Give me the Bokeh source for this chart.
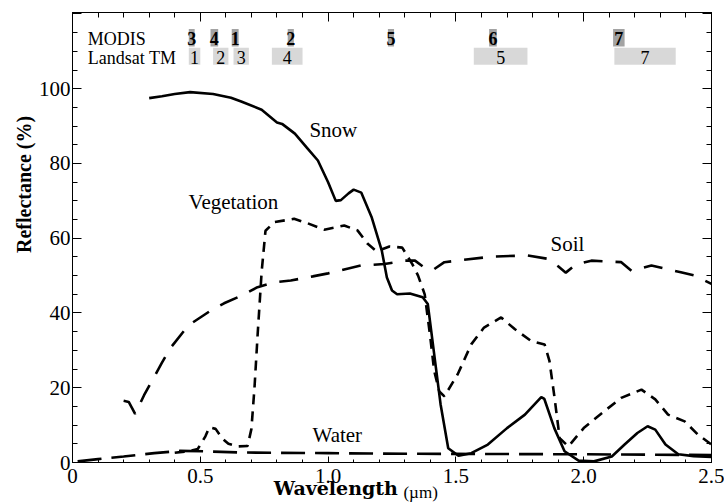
import math
from bokeh.plotting import figure
from bokeh.models import (LinearAxis, Label, Range1d, SingleIntervalTicker, FixedTicker,
                          ColumnDataSource, CustomJSTickFormatter)
from bokeh.core.properties import value
from bokeh.embed import file_html
from bokeh.resources import INLINE

# ---------------- data ----------------
snow_x = [0.30, 0.35, 0.40, 0.46, 0.55, 0.62, 0.66, 0.74, 0.80, 0.82, 0.87, 0.92, 0.96,
          1.00, 1.03, 1.05, 1.08, 1.10, 1.13, 1.17, 1.21, 1.23, 1.25, 1.27, 1.32, 1.37,
          1.39, 1.415, 1.44, 1.47, 1.51, 1.56, 1.625, 1.70, 1.77, 1.834, 1.846, 1.885,
          1.925, 1.98, 2.04, 2.11, 2.16, 2.21, 2.25, 2.28, 2.32, 2.37, 2.43, 2.50]
snow_y = [97.5, 98.0, 98.6, 99.1, 98.6, 97.6, 96.6, 94.4, 91.0, 90.6, 88.0, 84.0, 80.8,
          75.0, 70.0, 70.2, 72.0, 73.0, 72.2, 65.7, 56.7, 49.5, 46.0, 45.0, 45.2, 44.2,
          42.4, 29.0, 15.6, 3.8, 1.8, 2.5, 4.8, 9.2, 12.8, 17.5, 17.0, 9.2,
          3.0, 0.5, 0.3, 1.6, 4.8, 7.9, 9.7, 8.8, 4.8, 2.2, 1.7, 1.5]

veg_x = [0.40, 0.45, 0.49, 0.52, 0.535, 0.56, 0.585, 0.61, 0.645, 0.685, 0.70, 0.712,
         0.725, 0.74, 0.755, 0.79, 0.867, 0.92, 0.985, 1.063, 1.115, 1.155, 1.19, 1.24,
         1.29, 1.33, 1.352, 1.378, 1.40, 1.415, 1.435, 1.455, 1.507, 1.56, 1.61, 1.677,
         1.73, 1.795, 1.847, 1.866, 1.886, 1.906, 1.94, 2.00, 2.08, 2.147, 2.226, 2.28,
         2.33, 2.395, 2.448, 2.50]
veg_y = [2.6, 3.0, 3.6, 7.0, 9.4, 9.0, 6.5, 5.0, 4.3, 4.4, 9.0, 20.0,
         35.0, 51.0, 62.0, 64.3, 65.2, 64.0, 62.3, 63.4, 62.1, 58.5, 56.5, 57.8,
         57.5, 53.0, 50.0, 45.0, 33.4, 24.5, 19.0, 17.7, 23.6, 31.6, 36.1, 38.8,
         35.7, 32.5, 31.6, 27.2, 17.3, 6.5, 4.3, 9.2, 13.7, 17.3, 19.5, 16.9,
         12.8, 11.0, 7.4, 4.8]

soil_x = [0.20, 0.22, 0.245, 0.28, 0.35, 0.384, 0.436, 0.469, 0.54, 0.593, 0.66, 0.724,
          0.79, 0.854, 0.94, 1.00, 1.128, 1.22, 1.30, 1.34, 1.38, 1.41, 1.455, 1.64,
          1.78, 1.86, 1.90, 1.93, 1.97, 2.03, 2.147, 2.187, 2.265, 2.38, 2.435, 2.50]
soil_y = [16.5, 16.2, 13.0, 18.0, 26.7, 30.7, 35.2, 37.4, 40.6, 42.6, 44.6, 46.9,
          48.2, 48.7, 49.8, 50.6, 52.7, 53.1, 54.0, 54.0, 52.0, 51.5, 53.6, 55.1,
          55.4, 54.5, 52.5, 50.8, 53.0, 54.0, 53.6, 51.3, 52.7, 50.9, 50.0, 47.8]

water_x = [0.02, 0.10, 0.20, 0.32, 0.42, 0.515, 0.645, 0.776, 1.00, 1.17, 1.50, 2.00, 2.50]
water_y = [0.3, 0.9, 1.6, 2.5, 3.1, 3.0, 2.7, 2.6, 2.5, 2.4, 2.3, 2.2, 2.0]

modis_bands = ["3", "4", "1", "2", "5", "6", "7"]
modis_lo = [0.455, 0.540, 0.623, 0.842, 1.234, 1.630, 2.115]
modis_hi = [0.478, 0.570, 0.650, 0.866, 1.258, 1.660, 2.160]

landsat_bands = ["1", "2", "3", "4", "5", "7"]
landsat_lo = [0.455, 0.550, 0.630, 0.780, 1.570, 2.120]
landsat_hi = [0.500, 0.610, 0.690, 0.900, 1.780, 2.360]

curve_names = ["Snow", "Vegetation", "Soil", "Water"]
x_title, x_unit, y_title = "Wavelength", "(µm)", "Reflectance (%)"

# ---------------- figure ----------------
SERIF = "Liberation Serif"

p = figure(width=724, height=504, output_backend="svg", toolbar_location=None,
           x_range=Range1d(0, 2.5), y_range=Range1d(0, 120.4),
           x_axis_location=None, y_axis_location=None,
           min_border_left=72, min_border_right=13, min_border_top=12,
           min_border_bottom=42)
p.grid.visible = False
p.outline_line_color = "black"
p.outline_line_width = 1
p.background_fill_color = "white"
p.border_fill_color = "white"


def style_axis(ax, show_labels):
    ax.axis_line_color = "black"
    ax.axis_line_width = 1
    ax.major_tick_line_color = "black"
    ax.minor_tick_line_color = "black"
    ax.major_tick_out = 0
    ax.minor_tick_out = 0
    ax.major_tick_in = 9
    ax.minor_tick_in = 5
    if show_labels:
        ax.major_label_text_font = SERIF
        ax.major_label_text_font_size = "21px"
        ax.major_label_text_color = "black"
        ax.major_label_standoff = 2
    else:
        ax.formatter = CustomJSTickFormatter(code="return '';")
        ax.major_label_text_font_size = "0px"
        ax.major_label_standoff = 0


def title_axis(ticks, text, font, style, size, standoff, orientation="horizontal"):
    ax = LinearAxis(ticker=FixedTicker(ticks=ticks, minor_ticks=[]),
                    formatter=CustomJSTickFormatter(args=dict(t=text), code="return t;"))
    ax.axis_line_color = None
    ax.major_tick_line_color = None
    ax.minor_tick_line_color = None
    ax.major_tick_in = 0
    ax.major_tick_out = 0
    ax.minor_tick_in = 0
    ax.minor_tick_out = 0
    ax.major_label_text_font = font
    ax.major_label_text_font_style = style
    ax.major_label_text_font_size = size
    ax.major_label_text_color = "black"
    ax.major_label_standoff = standoff
    ax.major_label_orientation = orientation
    return ax


xfmt = CustomJSTickFormatter(code="return tick == 0 ? '0' : tick.toFixed(1);")
yfmt = CustomJSTickFormatter(code="return tick > 110 ? '' : tick.toFixed(0);")

xb = LinearAxis(ticker=SingleIntervalTicker(interval=0.5, num_minor_ticks=5), formatter=xfmt)
style_axis(xb, True)
xb.major_tick_in = 6
xb.minor_tick_in = 3
xb.major_label_standoff = 6
p.add_layout(xb, "below")
p.add_layout(title_axis([1.03], x_title, "DejaVu Serif", "bold", "19px", -9), "below")
p.add_layout(title_axis([1.362], x_unit, SERIF, "normal", "17px", -19), "below")

xt = LinearAxis(ticker=SingleIntervalTicker(interval=0.5, num_minor_ticks=5))
style_axis(xt, False)
p.add_layout(xt, "above")

yl = LinearAxis(ticker=SingleIntervalTicker(interval=20, num_minor_ticks=4), formatter=yfmt)
style_axis(yl, True)
p.add_layout(yl, "left")
p.add_layout(title_axis([74.4], y_title, SERIF, "bold", "20px", 0, "vertical"), "left")

yr = LinearAxis(ticker=SingleIntervalTicker(interval=20, num_minor_ticks=4))
style_axis(yr, False)
p.add_layout(yr, "right")

# ---------------- band boxes ----------------
msrc = ColumnDataSource(dict(lo=modis_lo, hi=modis_hi, lab=modis_bands,
                             mid=[(a + b) / 2 for a, b in zip(modis_lo, modis_hi)]))
lsrc = ColumnDataSource(dict(lo=landsat_lo, hi=landsat_hi, lab=landsat_bands,
                             mid=[(a + b) / 2 for a, b in zip(landsat_lo, landsat_hi)]))

p.quad(left="lo", right="hi", bottom=111.3, top=116.0, source=msrc,
       fill_color="#a3a3a3", line_color=None)
p.quad(left="lo", right="hi", bottom=106.4, top=111.0, source=lsrc,
       fill_color="#d8d8d8", line_color=None)
p.text(x="mid", y=113.4, text="lab", source=msrc, text_font=value(SERIF),
       text_font_size="18px", text_align="center", text_baseline="middle",
       text_color="black", text_font_style="bold")
p.text(x="mid", y=108.3, text="lab", source=lsrc, text_font=value(SERIF),
       text_font_size="18px", text_align="center", text_baseline="middle",
       text_color="black")

p.add_layout(Label(x=0.06, y=113.4, text="MODIS", text_font=SERIF,
                   text_font_size="18px", text_baseline="middle", text_color="black"))
p.add_layout(Label(x=0.06, y=108.3, text="Landsat TM", text_font=SERIF,
                   text_font_size="18px", text_baseline="middle", text_color="black"))

# ---------------- curves ----------------
p.line(snow_x, snow_y, line_color="black", line_width=2.6)
p.line(veg_x, veg_y, line_color="black", line_width=2.6, line_dash="10 7")
p.line(soil_x, soil_y, line_color="black", line_width=2.6, line_dash="19 13")
p.line(water_x, water_y, line_color="black", line_width=2.6, line_dash="24 10")

for txt, x, y in zip(curve_names, [0.927, 0.454, 1.870, 0.939], [88.9, 69.8, 58.5, 7.4]):
    p.add_layout(Label(x=x, y=y, text=txt, text_font=SERIF, text_font_size="21px",
                       text_baseline="middle", text_color="black"))

open("out.html", "w").write(file_html(p, INLINE))
